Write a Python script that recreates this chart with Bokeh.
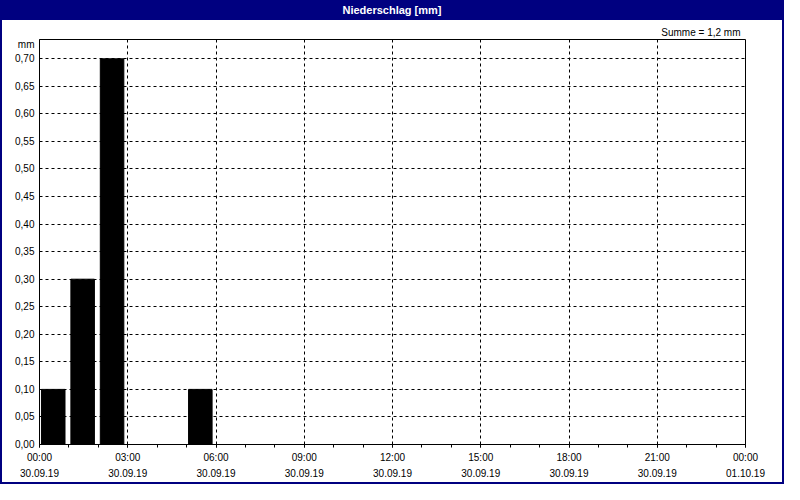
from bokeh.plotting import figure
from bokeh.models import FixedTicker, Range1d, Title, Div
from bokeh.layouts import column
from bokeh.embed import file_html
from bokeh.resources import INLINE

# ---- data ----
hours = [0, 1, 2, 5]            # start hour of each hourly sum, 30.09.19
values = [0.10, 0.30, 0.70, 0.10]  # precipitation [mm]
x_ticks = [0, 3, 6, 9, 12, 15, 18, 21, 24]
x_tick_labels = ["00:00\n30.09.19", "03:00\n30.09.19", "06:00\n30.09.19",
                 "09:00\n30.09.19", "12:00\n30.09.19", "15:00\n30.09.19",
                 "18:00\n30.09.19", "21:00\n30.09.19", "00:00\n01.10.19"]
x_minor = list(range(0, 25))
y_ticks = [0.0, 0.05, 0.1, 0.15, 0.2, 0.25, 0.3, 0.35, 0.4, 0.45, 0.5,
           0.55, 0.6, 0.65, 0.7]
y_tick_labels = ["0,00", "0,05", "0,10", "0,15", "0,20", "0,25", "0,30",
                 "0,35", "0,40", "0,45", "0,50", "0,55", "0,60", "0,65", "0,70"]
y_top = 0.735
title_text = "Niederschlag [mm]"
sum_text = "Summe = 1,2 mm"
unit_text = "mm"

FONT = "Liberation Sans"
NAVY = "#000080"

p = figure(width=780, height=462, output_backend="svg", toolbar_location=None,
           x_range=Range1d(0, 24), y_range=Range1d(0, y_top),
           min_border_left=37, min_border_right=37, min_border_top=19,
           min_border_bottom=37, background_fill_color="white",
           border_fill_color="white", margin=0)
p.outline_line_color = "black"
p.outline_line_width = 1

centers = [h + 0.467 for h in hours]
p.vbar(x=centers, top=values, bottom=0, width=0.8, fill_color="black",
       line_color="black")

# unit label "mm" shown as an extra tick label just below the frame top
unit_pos = y_top - 0.009
xt = FixedTicker(ticks=x_ticks, minor_ticks=x_minor)
yt = FixedTicker(ticks=y_ticks)
p.xaxis.ticker = xt
p.yaxis.ticker = FixedTicker(ticks=y_ticks + [unit_pos])
p.xaxis.major_label_overrides = dict(zip(x_ticks, x_tick_labels))
yov = dict(zip(y_ticks, y_tick_labels))
yov[unit_pos] = unit_text
p.yaxis.major_label_overrides = yov

for ax in (p.xaxis, p.yaxis):
    ax.axis_line_color = "black"
    ax.major_label_text_font = FONT
    ax.major_label_text_font_size = "10px"
    ax.major_label_text_color = "black"
    ax.major_tick_line_color = "black"
    ax.minor_tick_line_color = "black"
    ax.major_tick_in = 0
    ax.minor_tick_in = 0

p.xaxis.major_tick_out = 3
p.xaxis.minor_tick_out = 3
p.xaxis.major_label_standoff = 4
p.xaxis.major_label_text_line_height = 1.5
p.yaxis.major_tick_out = 0
p.yaxis.minor_tick_out = 0
p.yaxis.major_label_standoff = 5

p.xgrid.ticker = xt
p.ygrid.ticker = yt
for g in (p.xgrid, p.ygrid):
    g.grid_line_color = "black"
    g.grid_line_dash = "3 3"
    g.grid_line_width = 1

# sum text (right, just above frame)
p.add_layout(Title(text=sum_text, align="right", text_font=FONT,
                   text_font_size="10px", text_font_style="normal",
                   text_color="black", offset=5, standoff=3), "above")

title = Div(text=title_text, width=780, height=18, margin=0,
            styles={"background-color": NAVY, "color": "white",
                    "font-weight": "bold", "font-family": FONT,
                    "font-size": "11px", "text-align": "center",
                    "line-height": "16px"})

layout = column(title, p, spacing=0, margin=0,
                styles={"border": "2px solid " + NAVY, "background-color": "white"})

open("out.html", "w").write(file_html(layout, INLINE))
